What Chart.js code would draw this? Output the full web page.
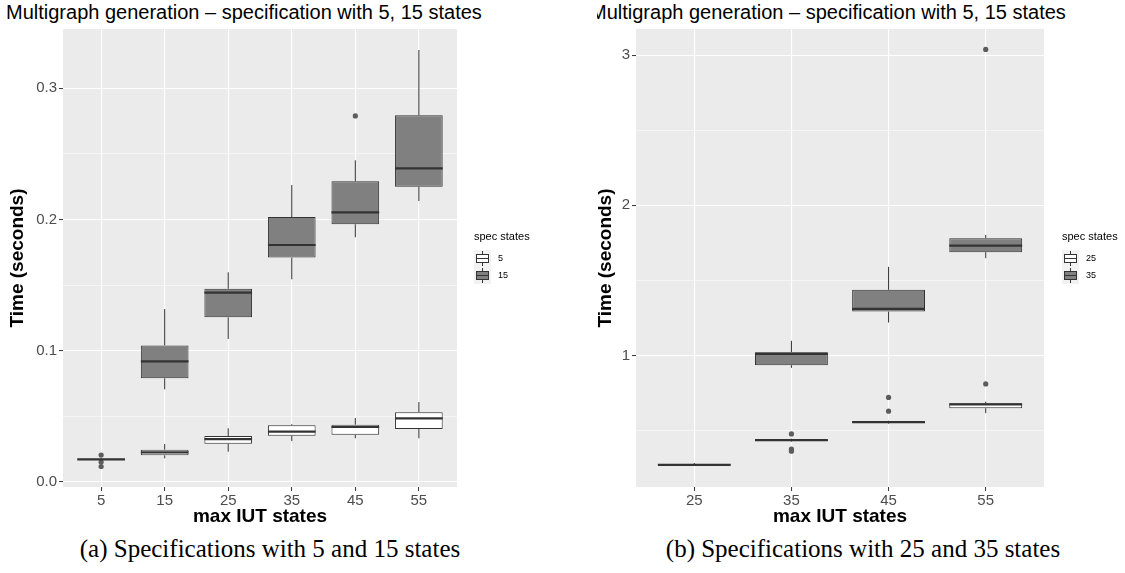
<!DOCTYPE html>
<html>
<head>
<meta charset="utf-8">
<script src="https://cdn.jsdelivr.net/npm/chart.js@4.4.0/dist/chart.umd.min.js"></script>
<style>
  body { margin: 0; background: #fff; width: 1125px; height: 573px; overflow: hidden; position: relative; }
  .panel { position: absolute; top: 0; height: 530px; overflow: hidden; }
  .panel canvas { position: absolute; top: 0; }
  .ttl { position: absolute; top: 1px; font: 20px/22px "Liberation Sans", Arial, sans-serif; color: #000; white-space: nowrap; }
  .cap { position: absolute; top: 535px; font: 25px/28px "Liberation Serif", "DejaVu Serif", serif; color: #000; white-space: nowrap; transform: translateX(-50%); }
</style>
</head>
<body>
<div class="panel" style="left:0;width:590px">
  <div class="ttl" style="left:6px">Multigraph generation – specification with 5, 15 states</div>
  <canvas id="chartA" width="590" height="530" style="left:0"></canvas>
</div>
<div class="panel" style="left:597px;width:528px">
  <div class="ttl" style="left:-7px">Multigraph generation – specification with 5, 15 states</div>
  <canvas id="chartB" width="545" height="530" style="left:-17px"></canvas>
</div>
<div class="cap" style="left:270px">(a) Specifications with 5 and 15 states</div>
<div class="cap" style="left:863px">(b) Specifications with 25 and 35 states</div>

<script>
// ---------- panel (a): spec states 5 and 15 ----------
const catsA = ['5', '15', '25', '35', '45', '55'];
const a5Min = [0.0165, 0.0180, 0.0231, 0.0312, 0.0333, 0.0333];
const a5Q1  = [0.0170, 0.0203, 0.0292, 0.0353, 0.0360, 0.0404];
const a5Med = [0.0173, 0.0225, 0.0327, 0.0383, 0.0419, 0.0485];
const a5Q3  = [0.0177, 0.0246, 0.0350, 0.0432, 0.0437, 0.0531];
const a5Max = [0.0182, 0.0289, 0.0409, 0.0440, 0.0487, 0.0609];
const a5Out = [[0.0205, 0.0152, 0.0118], [], [], [], [], []];

const a15Min = [null, 0.0706, 0.1089, 0.1544, 0.1864, 0.2140];
const a15Q1  = [null, 0.0790, 0.1254, 0.1709, 0.1963, 0.2249];
const a15Med = [null, 0.0919, 0.1442, 0.1805, 0.2054, 0.2389];
const a15Q3  = [null, 0.1040, 0.1472, 0.2018, 0.2290, 0.2793];
const a15Max = [null, 0.1317, 0.1597, 0.2262, 0.2450, 0.3290];
const a15Out = [[], [], [], [], [0.2788], []];

const ticksA = [0, 0.05, 0.1, 0.15, 0.2, 0.25, 0.3];

// ---------- panel (b): spec states 25 and 35 ----------
const catsB = ['25', '35', '45', '55'];
const b25Min = [0.266, 0.425, 0.545, 0.615];
const b25Q1  = [0.268, 0.429, 0.549, 0.648];
const b25Med = [0.270, 0.435, 0.555, 0.673];
const b25Q3  = [0.273, 0.440, 0.559, 0.681];
const b25Max = [0.283, 0.445, 0.565, 0.692];
const b25Out = [[], [0.477, 0.375, 0.362], [0.720, 0.628], [0.810]];

const b35Min = [null, 0.917, 1.219, 1.648];
const b35Q1  = [null, 0.935, 1.292, 1.688];
const b35Med = [null, 1.010, 1.310, 1.732];
const b35Q3  = [null, 1.021, 1.437, 1.781];
const b35Max = [null, 1.097, 1.590, 1.803];
const b35Out = [[], [], [], [3.039]];

const ticksB = [0.5, 1, 1.5, 2, 2.5, 3];

const WHITE = '#ffffff';
const GREY = '#808080';
const EDGE = '#333333';
const FONT = '"Liberation Sans", Arial, sans-serif';

// ---------- helpers ----------
function boxData(q1, q3) {
  const out = [];
  q1.forEach((v, i) => { if (v !== null) out.push({ x: i, y: [v, q3[i]] }); });
  return out;
}
function outData(list) {
  const out = [];
  list.forEach((vals, i) => vals.forEach(v => out.push({ x: i, y: v })));
  return out;
}
function boxSet(label, fill, q1, q3, min, med, max) {
  return {
    type: 'bar', label, data: boxData(q1, q3),
    backgroundColor: fill, borderColor: EDGE, borderWidth: 1, borderSkipped: false,
    grouped: false, barPercentage: 0.75, categoryPercentage: 1, order: 1,
    stats: { min, med, max }
  };
}
function pointSet(list) {
  return {
    type: 'line', data: outData(list), showLine: false, order: 0,
    pointRadius: 2.6, pointHoverRadius: 2.6, pointBackgroundColor: '#5c5c5c', pointBorderWidth: 0
  };
}

// whiskers, medians, panel background and legend
const boxExtras = {
  id: 'boxExtras',
  beforeDraw(chart) {
    const a = chart.chartArea;
    chart.ctx.save();
    chart.ctx.fillStyle = '#EBEBEB';
    chart.ctx.fillRect(a.left, a.top, a.right - a.left, a.bottom - a.top);
    chart.ctx.restore();
  },
  beforeDatasetsDraw(chart) { drawParts(chart, false); },
  afterDatasetsDraw(chart, args, opts) { drawParts(chart, true); drawLegend(chart, opts); }
};

function drawParts(chart, medians) {
  const ctx = chart.ctx, xs = chart.scales.x, ys = chart.scales.y;
  chart.data.datasets.forEach((ds, di) => {
    if (!ds.stats) return;
    const meta = chart.getDatasetMeta(di);
    const half = meta.data.length ? meta.data[0].width / 2 : 0;
    ctx.save();
    ctx.strokeStyle = EDGE;
    ds.stats.med.forEach((m, i) => {
      if (m === null) return;
      const x = xs.getPixelForValue(i);
      ctx.beginPath();
      if (medians) {
        ctx.lineWidth = 2.2;
        ctx.moveTo(x - half, ys.getPixelForValue(m));
        ctx.lineTo(x + half, ys.getPixelForValue(m));
      } else {
        ctx.lineWidth = 1;
        const p = ds.data.find(d => d.x === i);
        ctx.moveTo(x, ys.getPixelForValue(p.y[1]));
        ctx.lineTo(x, ys.getPixelForValue(ds.stats.max[i]));
        ctx.moveTo(x, ys.getPixelForValue(p.y[0]));
        ctx.lineTo(x, ys.getPixelForValue(ds.stats.min[i]));
      }
      ctx.stroke();
    });
    ctx.restore();
  });
}

function drawLegend(chart, opts) {
  const ctx = chart.ctx;
  const lx = chart.chartArea.right + opts.dx;
  ctx.save();
  ctx.fillStyle = '#000';
  ctx.font = '11px ' + FONT;
  ctx.textBaseline = 'middle';
  ctx.fillText(opts.title, lx, 237);
  opts.labels.forEach((lab, k) => {
    const ky = 250 + k * 17;
    ctx.fillStyle = '#F2F2F2';
    ctx.fillRect(lx, ky, 17, 17);
    ctx.fillStyle = opts.fills[k];
    ctx.strokeStyle = EDGE;
    ctx.lineWidth = 1;
    ctx.fillRect(lx + 2.5, ky + 4.5, 12, 8);
    ctx.strokeRect(lx + 2.5, ky + 4.5, 12, 8);
    ctx.beginPath();
    ctx.moveTo(lx + 8.5, ky + 1); ctx.lineTo(lx + 8.5, ky + 4.5);
    ctx.moveTo(lx + 8.5, ky + 12.5); ctx.lineTo(lx + 8.5, ky + 16);
    ctx.moveTo(lx + 2.5, ky + 8.5); ctx.lineTo(lx + 14.5, ky + 8.5);
    ctx.stroke();
    ctx.fillStyle = '#000';
    ctx.font = '9px ' + FONT;
    ctx.fillText(lab, lx + 24, ky + 9);
  });
  ctx.restore();
}

function makeChart(id, cfg) {
  const major = cfg.isMajor;
  return new Chart(document.getElementById(id), {
    type: 'bar',
    data: { datasets: cfg.datasets },
    plugins: [boxExtras],
    options: {
      responsive: false, animation: false,
      layout: { padding: cfg.padding },
      plugins: {
        legend: { display: false }, tooltip: { enabled: false }, title: { display: false },
        boxExtras: cfg.legend
      },
      scales: {
        x: {
          type: 'linear', min: -0.6, max: cfg.cats.length - 0.4, offset: false,
          afterBuildTicks: axis => { axis.ticks = cfg.cats.map((c, i) => ({ value: i })); },
          afterFit: s => { s.height = 43; },
          ticks: { callback: v => cfg.cats[v], color: '#4D4D4D', font: { size: 15, family: FONT }, padding: 1, maxRotation: 0, autoSkip: false },
          grid: { offset: false, color: '#ffffff', lineWidth: 1.1, tickColor: EDGE, tickLength: 4, tickWidth: 1 },
          border: { display: false },
          title: { display: true, text: 'max IUT states', color: '#000', font: { size: 19, weight: 'bold', family: FONT }, padding: { top: 0, bottom: 1.6 } }
        },
        y: {
          min: cfg.yMin, max: cfg.yMax,
          afterBuildTicks: axis => { axis.ticks = cfg.ticks.map(v => ({ value: v })); },
          afterFit: s => { s.width = cfg.yWidth; },
          ticks: { callback: v => major(v) ? cfg.fmt(v) : '', color: '#4D4D4D', font: { size: 15, family: FONT }, padding: 2 },
          grid: {
            color: '#ffffff',
            lineWidth: c => major(c.tick.value) ? 1.1 : 0.55,
            tickColor: c => major(c.tick.value) ? EDGE : 'rgba(0,0,0,0)',
            tickLength: 4, tickWidth: 1
          },
          border: { display: false },
          title: { display: true, text: 'Time (seconds)', color: '#000', font: { size: 19, weight: 'bold', family: FONT }, padding: { top: cfg.yTitlePad, bottom: 0 } }
        }
      }
    }
  });
}

makeChart('chartA', {
  cats: catsA,
  datasets: [
    boxSet('5', WHITE, a5Q1, a5Q3, a5Min, a5Med, a5Max),
    boxSet('15', GREY, a15Q1, a15Q3, a15Min, a15Med, a15Max),
    pointSet(a5Out), pointSet(a15Out)
  ],
  padding: { left: 6, right: 133, top: 29, bottom: 0 },
  yMin: -0.0038, yMax: 0.345, ticks: ticksA, yWidth: 57, yTitlePad: 0.6,
  isMajor: v => Math.abs(v * 10 - Math.round(v * 10)) < 1e-6,
  fmt: v => v.toFixed(1),
  legend: { title: 'spec states', labels: ['5', '15'], fills: [WHITE, GREY], dx: 17 }
});

makeChart('chartB', {
  cats: catsB,
  datasets: [
    boxSet('25', WHITE, b25Q1, b25Q3, b25Min, b25Med, b25Max),
    boxSet('35', GREY, b35Q1, b35Q3, b35Min, b35Med, b35Max),
    pointSet(b25Out), pointSet(b35Out)
  ],
  padding: { left: 1, right: 81, top: 29, bottom: 0 },
  yMin: 0.123, yMax: 3.175, ticks: ticksB, yWidth: 55, yTitlePad: 13.6,
  isMajor: v => Math.abs(v - Math.round(v)) < 1e-6,
  fmt: v => String(v),
  legend: { title: 'spec states', labels: ['25', '35'], fills: [WHITE, GREY], dx: 18 }
});
</script>
</body>
</html>
